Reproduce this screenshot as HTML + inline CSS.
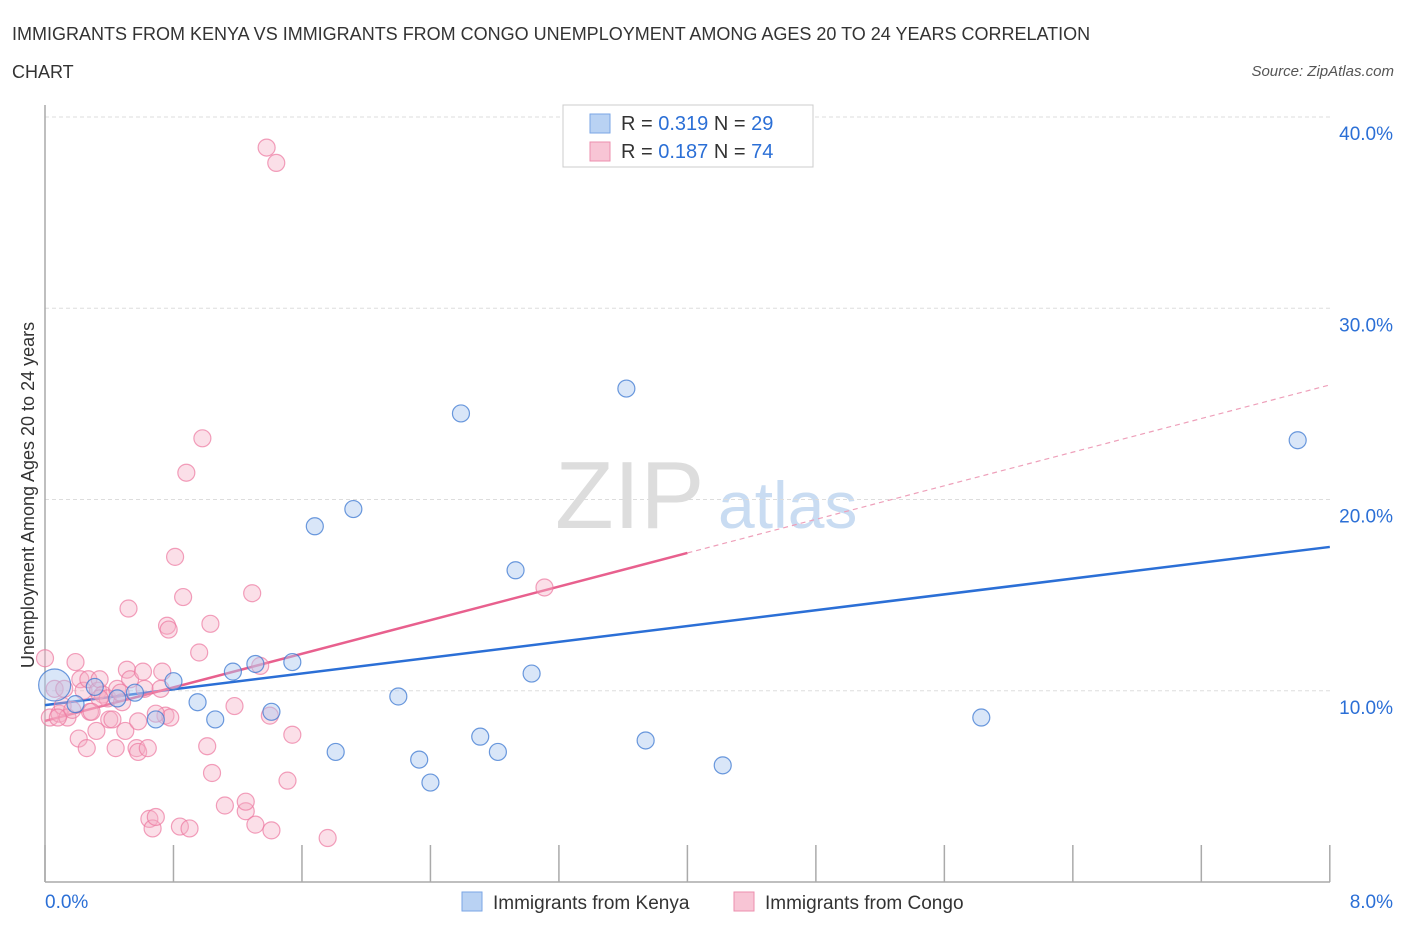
<!DOCTYPE html>
<html><head><meta charset="utf-8"><style>
body{margin:0;background:#fff;font-family:"Liberation Sans",sans-serif;}
svg text{font-family:"Liberation Sans",sans-serif;}
</style></head><body>
<svg id="chart" width="1406" height="930" xmlns="http://www.w3.org/2000/svg">
<text x="12" y="40" font-size="18" fill="#333">IMMIGRANTS FROM KENYA VS IMMIGRANTS FROM CONGO UNEMPLOYMENT AMONG AGES 20 TO 24 YEARS CORRELATION</text>
<text x="12" y="78" font-size="18" fill="#333">CHART</text>
<text x="1394" y="76" font-size="15" fill="#555" font-style="italic" text-anchor="end">Source: ZipAtlas.com</text>
<g>
<text x="555" y="528" font-size="96" font-family="Liberation Serif" fill="#ddd">ZIP</text>
<text x="718" y="528" font-size="66" fill="#c9dcf2">atlas</text>
</g>
<g id="grid"></g>
<g id="axes"></g>
<g id="lines"></g>
<g id="pts"></g>
<g>
<rect x="563" y="105" width="250" height="62" fill="#fff" stroke="#ccc"/>
<rect x="590" y="114" width="20" height="19" fill="#b9d2f3" stroke="#7aa6e6"/>
<text x="621" y="130" font-size="20" fill="#333">R = <tspan fill="#2b6fd6">0.319</tspan>   N = <tspan fill="#2b6fd6">29</tspan></text>
<rect x="590" y="142" width="20" height="19" fill="#f8c5d5" stroke="#ec8fae"/>
<text x="621" y="158" font-size="20" fill="#333">R = <tspan fill="#2b6fd6">0.187</tspan>   N = <tspan fill="#2b6fd6">74</tspan></text>
</g>
<g>
<rect x="462" y="892" width="20" height="19" fill="#b9d2f3" stroke="#7aa6e6"/>
<text x="493" y="909" font-size="19" fill="#333">Immigrants from Kenya</text>
<rect x="734" y="892" width="20" height="19" fill="#f8c5d5" stroke="#ec8fae"/>
<text x="765" y="909" font-size="19" fill="#333">Immigrants from Congo</text>
</g>
<text transform="translate(34,495) rotate(-90)" font-size="18" fill="#333" text-anchor="middle">Unemployment Among Ages 20 to 24 years</text>
</svg>
<script>
const yTicks=[10,20,30,40];
const xTickLabels=["0.0%","8.0%"];
const kenyaX=[0.06,0.19,0.31,0.45,0.56,0.69,0.80,0.95,1.06,1.17,1.31,1.41,1.54,1.68,1.81,1.92,2.20,2.33,2.40,2.59,2.71,2.82,2.93,3.03,3.62,3.74,4.22,5.83,7.80];
const kenyaY=[10.3,9.3,10.2,9.6,9.9,8.5,10.5,9.4,8.5,11.0,11.4,8.9,11.5,18.6,6.8,19.5,9.7,6.4,5.2,24.5,7.6,6.8,16.3,10.9,25.8,7.4,6.1,8.6,23.1];
const congoX=[0.00,0.03,0.06,0.09,0.11,0.14,0.17,0.19,0.21,0.22,0.24,0.26,0.27,0.28,0.32,0.33,0.34,0.36,0.39,0.40,0.42,0.44,0.45,0.48,0.50,0.51,0.52,0.53,0.57,0.58,0.61,0.62,0.64,0.65,0.67,0.69,0.72,0.73,0.75,0.76,0.77,0.78,0.81,0.84,0.86,0.88,0.90,0.96,0.98,1.01,1.03,1.04,1.12,1.18,1.25,1.25,1.29,1.31,1.34,1.40,1.41,1.51,1.54,1.76,1.38,1.44,3.11,0.58,0.69,0.12,0.34,0.47,0.08,0.29];
const congoY=[11.7,8.6,10.1,8.8,9.2,8.6,9.0,11.5,7.5,10.6,10.0,7.0,10.6,8.9,7.9,10.0,10.6,9.8,9.6,8.5,8.5,7.0,10.1,9.4,7.9,11.1,14.3,10.6,7.0,6.8,11.0,10.1,7.0,3.3,2.8,3.4,10.1,11.0,8.7,13.4,13.2,8.6,17.0,2.9,14.9,21.4,2.8,12.0,23.2,7.1,13.5,5.7,4.0,9.2,3.7,4.2,15.1,3.0,11.3,8.7,2.7,5.3,7.7,2.3,38.4,37.6,15.4,8.4,8.8,10.1,9.6,9.9,8.6,8.9];
const kenyaLine=[9.25,17.52];
const congoLine=[8.42,25.99];
const NS="http://www.w3.org/2000/svg";
const X=v=>45+v*160.6;
const Y=v=>882-v*19.125;
function mk(tag,attrs,parent){const e=document.createElementNS(NS,tag);for(const k in attrs)e.setAttribute(k,attrs[k]);parent.appendChild(e);return e;}
const grid=document.getElementById('grid'),axes=document.getElementById('axes'),lines=document.getElementById('lines'),pts=document.getElementById('pts');
yTicks.forEach(t=>{
 const l=mk('line',{x1:45,x2:1330,y1:Y(t),y2:Y(t),stroke:'#ddd','stroke-dasharray':'4,3'},grid);
 
 
 const tx=mk('text',{x:1393,y:Y(t)+23,'font-size':19,fill:'#2b6fd6','text-anchor':'end'},grid);
 tx.textContent=t.toFixed(1)+'%';
 
 
});
const ya=mk('line',{x1:45,x2:45,y1:105,y2:882,stroke:'#aaa','stroke-width':1.5},axes);


const xa=mk('line',{x1:45,x2:1330,y1:882,y2:882,stroke:'#aaa','stroke-width':1.5},axes);


for(let i=0;i<=10;i++){
 const tk=mk('line',{x1:X(i*0.8),x2:X(i*0.8),y1:845,y2:882,stroke:'#aaa','stroke-width':1.5},axes);
 
 
}
xTickLabels.forEach((s,i)=>{
 const t=mk('text',{x:i?1393:45,y:908,'font-size':19,fill:'#2b6fd6','text-anchor':i?'end':'start'},axes);
 t.textContent=s;
 
 
});
function dots(xs,ys,fill,stroke,name){
 xs.forEach((x,i)=>{
  const c=mk('circle',{cx:X(x),cy:Y(ys[i]),r:(name==='kenya-point'&&i===0)?16:8.5,fill:fill,stroke:stroke,'stroke-width':1.2},pts);
  
  
 });
}
dots(congoX,congoY,'rgba(246,175,198,0.4)','rgba(236,120,160,0.7)','congo-point');
dots(kenyaX,kenyaY,'rgba(170,200,240,0.45)','rgba(60,120,210,0.75)','kenya-point');
const kl=mk('line',{x1:X(0),y1:Y(kenyaLine[0]),x2:X(8),y2:Y(kenyaLine[1]),stroke:'#2b6fd6','stroke-width':2.5},lines);


const cm=congoLine[0]+(congoLine[1]-congoLine[0])*0.5;
const cl=mk('line',{x1:X(0),y1:Y(congoLine[0]),x2:X(4),y2:Y(cm),stroke:'#e8608e','stroke-width':2.5},lines);


const cd=mk('line',{x1:X(4),y1:Y(cm),x2:X(8),y2:Y(congoLine[1]),stroke:'#eea0ba','stroke-width':1.2,'stroke-dasharray':'5,4'},lines);


</script>
</body></html>
